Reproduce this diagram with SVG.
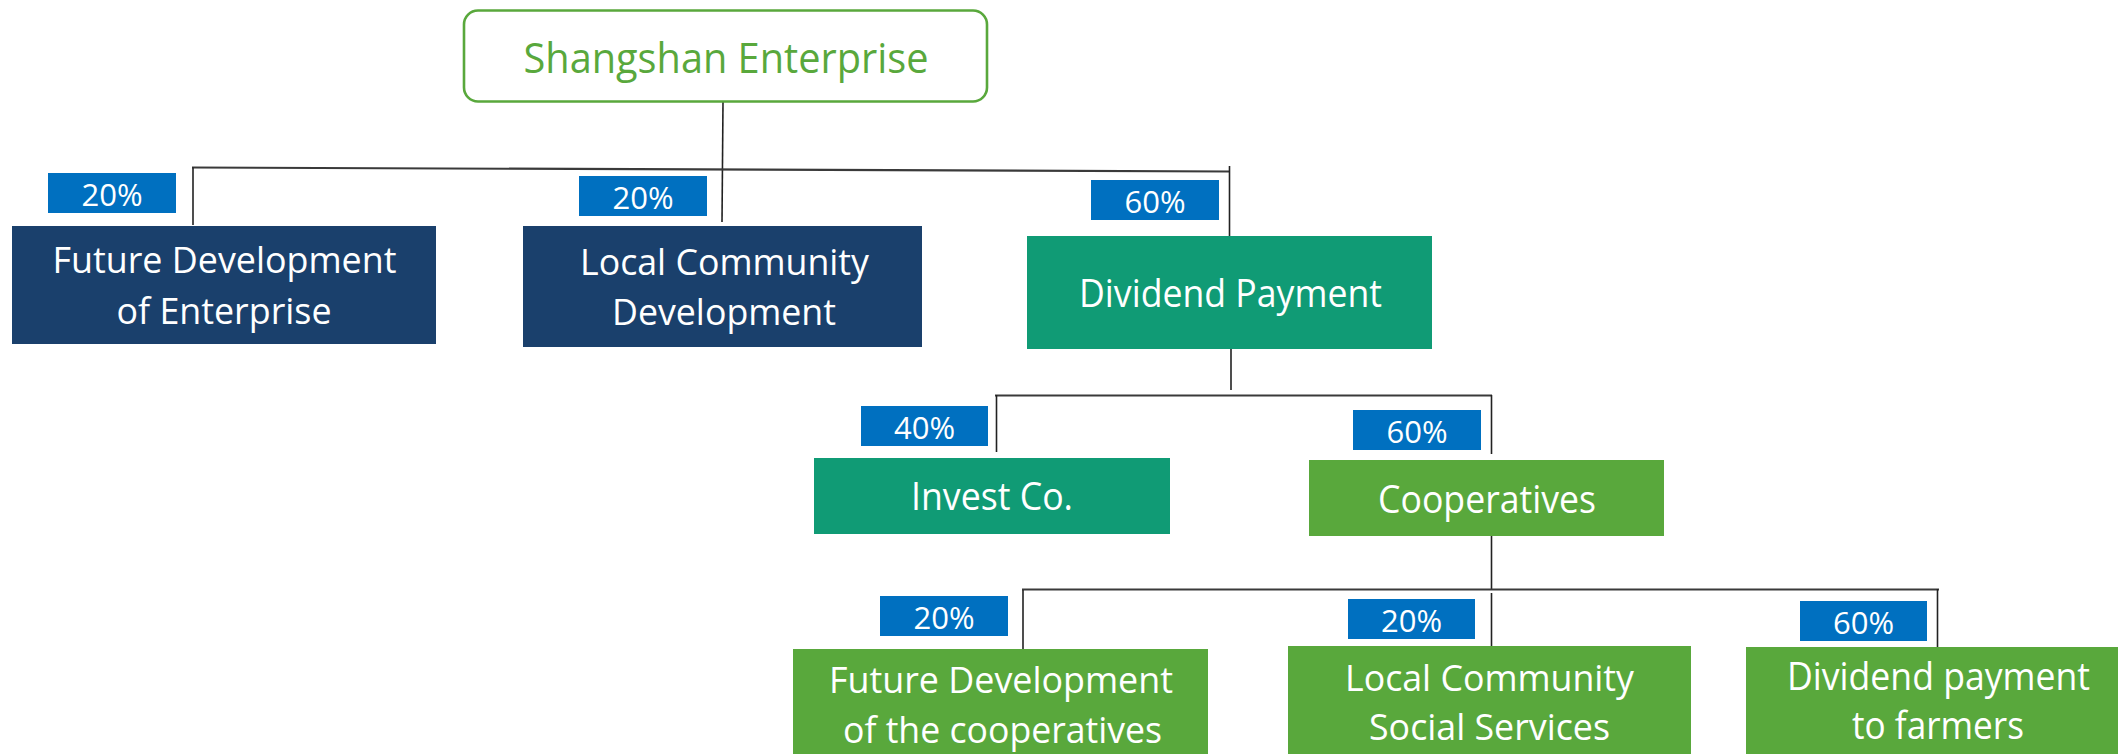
<svg xmlns="http://www.w3.org/2000/svg" width="2118" height="754" viewBox="0 0 2118 754">
<style>
text{font-family:"Open Sans","Liberation Sans",sans-serif;text-anchor:middle}
.w{fill:#ffffff;font-size:37px}
.b{font-size:38px}
.pct rect{fill:#0070C0}
.pct text{fill:#ffffff;font-size:31px}
.navy{fill:#1A406C}
.teal{fill:#109B75}
.green{fill:#59A83C}
.c line{stroke:#222;stroke-width:1.6;fill:none}
.c line.h{stroke:#3a3a3a;stroke-width:2.2}
</style>
<rect width="2118" height="754" fill="#ffffff"/>
<g class="c" id="connectors">
<line x1="723" y1="102" x2="722" y2="222"/>
<line class="h" x1="192" y1="167.5" x2="1230" y2="171.5"/>
<line x1="193" y1="167.5" x2="193" y2="225"/>
<line x1="1229.5" y1="166" x2="1229.5" y2="236"/>
<line x1="1231" y1="341" x2="1231" y2="390"/>
<line class="h" x1="995" y1="395.5" x2="1492" y2="395.5"/>
<line x1="996.5" y1="395" x2="996.5" y2="452"/>
<line x1="1491.5" y1="395" x2="1491.5" y2="454"/>
<line x1="1491.5" y1="532" x2="1491.5" y2="590"/>
<line class="h" x1="1022" y1="589.5" x2="1939" y2="589.5"/>
<line x1="1023" y1="590" x2="1023" y2="649"/>
<line x1="1491.5" y1="593" x2="1491.5" y2="651"/>
<line x1="1937.5" y1="589" x2="1937.5" y2="647"/>
</g>
<g id="shangshan">
<rect x="464" y="10.5" width="523" height="91" rx="14" fill="#ffffff" stroke="#59A83C" stroke-width="2.6"/>
<text x="726" y="73" font-size="42" fill="#59A83C" textLength="405" lengthAdjust="spacingAndGlyphs">Shangshan Enterprise</text>
</g>
<g id="future-enterprise">
<rect class="navy" x="12" y="226" width="424" height="118"/>
<text class="w" x="224.5" y="273" textLength="344" lengthAdjust="spacingAndGlyphs">Future Development</text>
<text class="w" x="224" y="324" textLength="215" lengthAdjust="spacingAndGlyphs">of Enterprise</text>
</g>
<g id="local-community-dev">
<rect class="navy" x="523" y="226" width="399" height="121"/>
<text class="w" x="724.5" y="275" textLength="289" lengthAdjust="spacingAndGlyphs">Local Community</text>
<text class="w" x="724" y="325" textLength="224" lengthAdjust="spacingAndGlyphs">Development</text>
</g>
<g id="dividend-payment">
<rect class="teal" x="1027" y="236" width="405" height="113"/>
<text class="w b" x="1230.5" y="307" textLength="303" lengthAdjust="spacingAndGlyphs">Dividend Payment</text>
</g>
<g id="invest-co">
<rect class="teal" x="814" y="458" width="356" height="76"/>
<text class="w b" x="992" y="510" textLength="162" lengthAdjust="spacingAndGlyphs">Invest Co.</text>
</g>
<g id="cooperatives">
<rect class="green" x="1309" y="460" width="355" height="76"/>
<text class="w b" x="1487" y="513" textLength="218" lengthAdjust="spacingAndGlyphs">Cooperatives</text>
</g>
<g id="future-coop">
<rect class="green" x="793" y="649" width="415" height="110"/>
<text class="w" x="1001" y="693" textLength="344" lengthAdjust="spacingAndGlyphs">Future Development</text>
<text class="w" x="1002.5" y="743" textLength="319" lengthAdjust="spacingAndGlyphs">of the cooperatives</text>
</g>
<g id="local-social">
<rect class="green" x="1288" y="646" width="403" height="113"/>
<text class="w" x="1489.5" y="691" textLength="289" lengthAdjust="spacingAndGlyphs">Local Community</text>
<text class="w" x="1489.5" y="740" textLength="241" lengthAdjust="spacingAndGlyphs">Social Services</text>
</g>
<g id="dividend-farmers">
<rect class="green" x="1746" y="647" width="385" height="112"/>
<text class="w b" x="1938.5" y="690" textLength="303" lengthAdjust="spacingAndGlyphs">Dividend payment</text>
<text class="w b" x="1938" y="739" textLength="172" lengthAdjust="spacingAndGlyphs">to farmers</text>
</g>
<g class="pct" id="pct-a"><rect x="48" y="173" width="128" height="40"/><text x="112" y="205.5">20%</text></g>
<g class="pct" id="pct-b"><rect x="579" y="176" width="128" height="40"/><text x="643" y="208.5">20%</text></g>
<g class="pct" id="pct-c"><rect x="1091" y="180" width="128" height="40"/><text x="1155" y="212.5">60%</text></g>
<g class="pct" id="pct-d"><rect x="861" y="406" width="127" height="40"/><text x="924.5" y="438.5">40%</text></g>
<g class="pct" id="pct-e"><rect x="1353" y="410" width="128" height="40"/><text x="1417" y="442.5">60%</text></g>
<g class="pct" id="pct-f"><rect x="880" y="596" width="128" height="40"/><text x="944" y="628.5">20%</text></g>
<g class="pct" id="pct-g"><rect x="1348" y="599" width="127" height="40"/><text x="1411.5" y="631.5">20%</text></g>
<g class="pct" id="pct-h"><rect x="1800" y="601" width="127" height="40"/><text x="1863.5" y="633.5">60%</text></g>
</svg>
